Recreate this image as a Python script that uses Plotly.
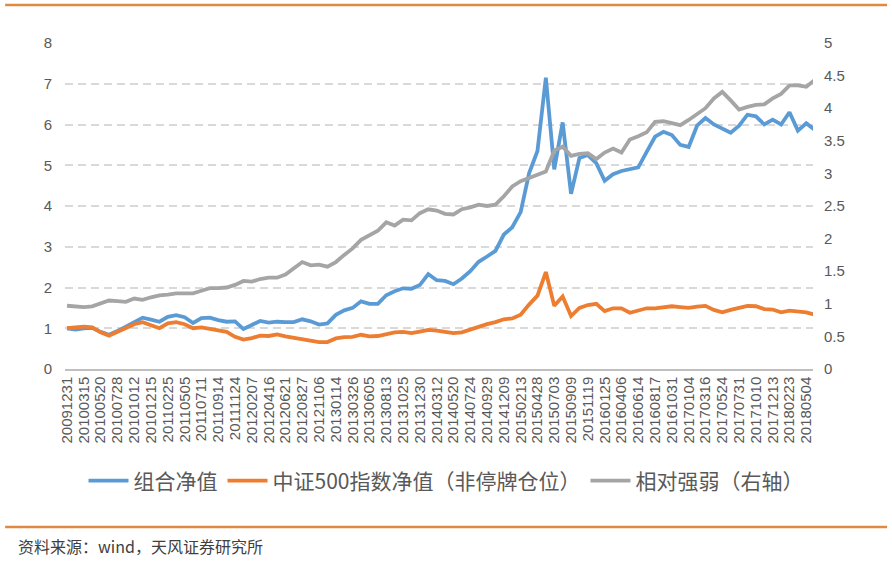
import plotly.graph_objects as go

# ---------------- data ----------------
tick_labels = [
    "20091231", "20100315", "20100520", "20100728", "20101012", "20101215",
    "20110225", "20110505", "20110711", "20110914", "20111124",
    "20120207", "20120416", "20120621", "20120827", "20121106",
    "20130114", "20130326", "20130605", "20130813", "20131025", "20131230",
    "20140312", "20140520", "20140724", "20140929", "20141209",
    "20150213", "20150428", "20150703", "20150909", "20151119",
    "20160125", "20160406", "20160614", "20160817", "20161031",
    "20170104", "20170316", "20170524", "20170731", "20171010", "20171213",
    "20180223", "20180504",
]

# two samples per labelled tick interval
samples_per_tick = 2

portfolio_nav = [
    1.00, 0.97, 1.00, 1.01, 0.91, 0.84, 0.93, 1.04, 1.16, 1.26,
    1.21, 1.16, 1.28, 1.32, 1.27, 1.13, 1.25, 1.26, 1.20, 1.16,
    1.17, 0.98, 1.08, 1.18, 1.14, 1.16, 1.15, 1.15, 1.22, 1.17,
    1.09, 1.12, 1.33, 1.44, 1.50, 1.66, 1.60, 1.60, 1.81, 1.91,
    1.98, 1.97, 2.06, 2.33, 2.18, 2.16, 2.08, 2.22, 2.40, 2.63,
    2.76, 2.90, 3.30, 3.48, 3.85, 4.80, 5.35, 7.15, 4.90, 6.05,
    4.30, 5.18, 5.25, 5.05, 4.62, 4.78, 4.86, 4.90, 4.95, 5.33,
    5.70, 5.82, 5.74, 5.50, 5.45, 5.97, 6.16, 6.00, 5.90, 5.80,
    5.97, 6.24, 6.20, 6.00, 6.12, 6.00, 6.30, 5.85, 6.03, 5.87,
]

csi500_nav = [
    1.00, 1.02, 1.04, 1.02, 0.90, 0.82, 0.92, 1.01, 1.10, 1.15,
    1.07, 1.00, 1.12, 1.15, 1.10, 1.00, 1.02, 0.98, 0.93, 0.91,
    0.79, 0.72, 0.76, 0.82, 0.81, 0.85, 0.80, 0.77, 0.73, 0.71,
    0.66, 0.66, 0.75, 0.78, 0.79, 0.84, 0.80, 0.81, 0.85, 0.90,
    0.91, 0.88, 0.92, 0.96, 0.94, 0.92, 0.88, 0.90, 0.97, 1.05,
    1.10, 1.15, 1.22, 1.24, 1.33, 1.58, 1.80, 2.38, 1.55, 1.78,
    1.30, 1.50, 1.57, 1.60, 1.42, 1.49, 1.49, 1.38, 1.43, 1.49,
    1.49, 1.52, 1.54, 1.52, 1.50, 1.53, 1.55, 1.45, 1.39, 1.45,
    1.49, 1.55, 1.54, 1.47, 1.46, 1.39, 1.43, 1.41, 1.39, 1.33,
]

relative_strength = [
    0.97, 0.96, 0.95, 0.96, 1.00, 1.05, 1.04, 1.03, 1.08, 1.06,
    1.10, 1.13, 1.14, 1.16, 1.16, 1.16, 1.20, 1.24, 1.24, 1.25,
    1.29, 1.35, 1.34, 1.38, 1.40, 1.40, 1.45, 1.54, 1.64, 1.59,
    1.60, 1.57, 1.64, 1.75, 1.85, 1.98, 2.05, 2.12, 2.25, 2.20,
    2.29, 2.28, 2.39, 2.45, 2.43, 2.38, 2.37, 2.45, 2.48, 2.52,
    2.50, 2.52, 2.65, 2.80, 2.88, 2.93, 2.98, 3.03, 3.35, 3.41,
    3.27, 3.30, 3.31, 3.22, 3.32, 3.38, 3.32, 3.52, 3.57, 3.63,
    3.79, 3.80, 3.77, 3.74, 3.82, 3.91, 4.00, 4.15, 4.25, 4.12,
    3.98, 4.02, 4.05, 4.06, 4.15, 4.22, 4.35, 4.35, 4.33, 4.43,
]

series_names = ["组合净值", "中证500指数净值（非停牌仓位）", "相对强弱（右轴）"]
series_colors = ["#5B9BD5", "#ED7D31", "#A5A5A5"]

# ---------------- figure ----------------
x_pos = [i / samples_per_tick for i in range(len(portfolio_nav))]
tick_pos = list(range(len(tick_labels)))

fig = go.Figure()
fig.add_trace(go.Scatter(x=x_pos, y=portfolio_nav, name=series_names[0], mode="lines",
                         line=dict(color=series_colors[0], width=3.8)))
fig.add_trace(go.Scatter(x=x_pos, y=csi500_nav, name=series_names[1], mode="lines",
                         line=dict(color=series_colors[1], width=3.8)))
fig.add_trace(go.Scatter(x=x_pos, y=relative_strength, name=series_names[2], mode="lines",
                         line=dict(color=series_colors[2], width=3.8), yaxis="y2"))

label_color = "#595959"
base_font = "Liberation Sans, Arial, Noto Sans CJK SC, sans-serif"
cjk_font = "Noto Sans CJK SC, Microsoft YaHei, sans-serif"

fig.update_layout(
    width=892, height=562,
    margin=dict(l=65, r=79, t=43, b=193),
    paper_bgcolor="white", plot_bgcolor="white",
    font=dict(family=base_font, color=label_color, size=15),
    xaxis=dict(
        range=[-0.12, 44.4],
        tickmode="array", tickvals=tick_pos, ticktext=tick_labels,
        tickangle=-90, tickfont=dict(size=15, color=label_color),
        showgrid=False, zeroline=False,
        showline=True, linecolor="#BFBFBF", linewidth=1.5,
        ticks="",
    ),
    yaxis=dict(
        range=[0, 8], dtick=1, tickfont=dict(size=15, color=label_color),
        showgrid=True, gridcolor="#D9D9D9", gridwidth=1.5, griddash="8px,5px",
        zeroline=False, showline=False, ticks="", ticklabelstandoff=12,
    ),
    yaxis2=dict(
        range=[0, 5], dtick=0.5, overlaying="y", side="right",
        tickfont=dict(size=15, color=label_color),
        showgrid=False, zeroline=False, showline=False, ticks="", ticklabelstandoff=10,
    ),
    legend=dict(
        orientation="h", xref="container", yref="container",
        x=0.5, xanchor="center", y=0.144, yanchor="middle",
        font=dict(size=21, family=cjk_font, color=label_color),
        itemwidth=40, tracegroupgap=0,
    ),
    showlegend=True,
)

# decorative report rules and source line
fig.add_shape(type="line", xref="paper", yref="paper",
              x0=-0.08, x1=1.099, y0=1.1166, y1=1.1166,
              line=dict(color="#DF8A43", width=2.5))
fig.add_shape(type="line", xref="paper", yref="paper",
              x0=-0.08, x1=1.099, y0=-0.4847, y1=-0.4847,
              line=dict(color="#DF8A43", width=2.5))
fig.add_annotation(text="资料来源：wind，天风证券研究所", xref="paper", yref="paper",
                   x=-0.066, y=-0.543, xanchor="left", yanchor="middle",
                   showarrow=False, font=dict(size=16, family=cjk_font, color="#404040"))

fig.write_html("out.html")
